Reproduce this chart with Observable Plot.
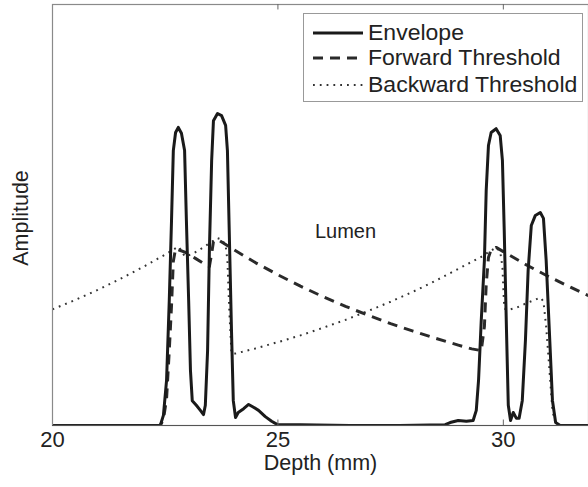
<!DOCTYPE html>
<html>
<head>
<meta charset="utf-8">
<script src="https://cdn.jsdelivr.net/npm/d3@7"></script>
<script src="https://cdn.jsdelivr.net/npm/@observablehq/plot@0.6"></script>
<style>
  html, body { margin: 0; padding: 0; background: #fff; }
  #wrap { position: relative; width: 588px; height: 487px; overflow: hidden; font-family: "Liberation Sans", Arial, sans-serif; }
  #legend { position: absolute; left: 303px; top: 13px; width: 280px; height: 89px; border: 1px solid #999; background: #fff; box-sizing: border-box; }
  .row { position: absolute; left: 0; height: 26px; display: flex; align-items: center; font-size: 21.5px; color: #222; white-space: nowrap; }
  .row svg { margin-left: 9px; margin-right: 5px; }
  .row span { display: inline-block; transform: scaleX(1.07); transform-origin: left center; }
</style>
</head>
<body>
<div id="wrap"><div id="chart"></div><div id="legend"></div></div>
<script>
// Depth axis ticks (mm)
const xTicks = [20, 25, 30];
const seriesNames = ["Envelope", "Forward Threshold", "Backward Threshold"];
const annotation = "Lumen";

// Envelope (depth in mm, normalized amplitude)
const envDepth = [20, 22.39, 22.46, 22.53, 22.59, 22.64, 22.68, 22.73, 22.79, 22.86, 22.93, 22.97, 23.02, 23.06, 23.10, 23.19, 23.28, 23.35, 23.39, 23.44, 23.48, 23.53, 23.57, 23.66, 23.75, 23.84, 23.88, 23.92, 23.97, 24.01, 24.06, 24.12, 24.24, 24.35, 24.43, 24.57, 24.72, 24.86, 24.99, 25.5, 26.6, 27.7, 28.71, 28.82, 29.00, 29.18, 29.33, 29.40, 29.45, 29.51, 29.58, 29.62, 29.67, 29.73, 29.84, 29.93, 29.98, 30.02, 30.07, 30.11, 30.16, 30.22, 30.29, 30.35, 30.42, 30.49, 30.55, 30.62, 30.71, 30.82, 30.89, 30.95, 31.02, 31.09, 31.16, 31.26, 32];
const envAmp   = [0, 0, 0.024, 0.107, 0.297, 0.487, 0.653, 0.696, 0.708, 0.694, 0.653, 0.487, 0.297, 0.131, 0.059, 0.048, 0.036, 0.026, 0.048, 0.178, 0.416, 0.629, 0.724, 0.741, 0.736, 0.713, 0.653, 0.463, 0.226, 0.059, 0.019, 0.031, 0.040, 0.050, 0.045, 0.036, 0.021, 0.010, 0.002, 0.002, 0, 0, 0.002, 0.007, 0.012, 0.010, 0.012, 0.036, 0.107, 0.249, 0.392, 0.558, 0.665, 0.696, 0.705, 0.689, 0.629, 0.463, 0.226, 0.048, 0.012, 0.031, 0.017, 0.017, 0.059, 0.202, 0.368, 0.475, 0.499, 0.506, 0.492, 0.392, 0.226, 0.059, 0.007, 0, 0];

// Forward threshold
const fwdDepth = [20, 22.39, 22.46, 22.53, 22.59, 22.64, 22.68, 22.73, 22.95, 23.17, 23.39, 23.48, 23.53, 23.57, 23.66, 24.0, 24.5, 25.0, 25.5, 26.0, 26.5, 27.0, 27.5, 28.0, 28.5, 29.0, 29.3, 29.51, 29.58, 29.62, 29.67, 29.73, 29.84, 30.0, 30.5, 31.0, 31.5, 32];
const fwdAmp   = [0, 0, 0.014, 0.064, 0.178, 0.285, 0.39, 0.42, 0.411, 0.397, 0.382, 0.378, 0.408, 0.437, 0.442, 0.419, 0.387, 0.358, 0.331, 0.306, 0.283, 0.262, 0.242, 0.224, 0.207, 0.191, 0.182, 0.178, 0.235, 0.335, 0.399, 0.418, 0.423, 0.413, 0.382, 0.354, 0.328, 0.303];

// Backward threshold
const bwdDepth = [20, 20.5, 21, 21.5, 22, 22.5, 22.79, 22.86, 22.93, 23.1, 23.3, 23.5, 23.66, 23.75, 23.84, 23.88, 23.92, 23.97, 24.06, 24.5, 25, 25.5, 26, 26.5, 27, 27.5, 28, 28.5, 29, 29.5, 29.84, 29.93, 29.98, 30.02, 30.11, 30.16, 30.3, 30.5, 30.62, 30.71, 30.82, 30.89, 30.95, 31.02, 31.09, 31.16, 31.26, 32];
const bwdAmp   = [0.276, 0.298, 0.322, 0.348, 0.376, 0.406, 0.425, 0.416, 0.402, 0.407, 0.42, 0.434, 0.445, 0.442, 0.428, 0.392, 0.278, 0.171, 0.171, 0.183, 0.198, 0.214, 0.232, 0.251, 0.272, 0.294, 0.318, 0.344, 0.372, 0.40, 0.423, 0.413, 0.377, 0.278, 0.274, 0.276, 0.28, 0.29, 0.295, 0.299, 0.304, 0.295, 0.235, 0.136, 0.035, 0.004, 0, 0];

const toRows = (xs, ys) => xs.map((d, i) => ({depth: d, amp: ys[i]}));
const env = toRows(envDepth, envAmp);
const fwd = toRows(fwdDepth, fwdAmp);
const bwd = toRows(bwdDepth, bwdAmp);

const styles = {
  Envelope: {stroke: "#1a1a1a", strokeWidth: 3, strokeDasharray: null},
  "Forward Threshold": {stroke: "#2a2a2a", strokeWidth: 3, strokeDasharray: "10,7"},
  "Backward Threshold": {stroke: "#333", strokeWidth: 2, strokeDasharray: "1.8,5"}
};

const chart = Plot.plot({
  width: 588,
  height: 487,
  marginLeft: 52, marginRight: 0, marginTop: 4, marginBottom: 62,
  style: {fontFamily: "'Liberation Sans', Arial, sans-serif", fontSize: "21px", color: "#222", background: "#fff"},
  x: {domain: [20, 32], range: [52, 593], axis: null},
  y: {domain: [0, 1], range: [425, 4], axis: null},
  marks: [
    Plot.line(bwd, {x: "depth", y: "amp", clip: true, strokeLinecap: "butt", ...styles["Backward Threshold"]}),
    Plot.line(fwd, {x: "depth", y: "amp", clip: true, strokeLinecap: "butt", ...styles["Forward Threshold"]}),
    Plot.line(env, {x: "depth", y: "amp", clip: true, strokeLinejoin: "round", ...styles.Envelope}),
    Plot.frame({stroke: "#8a8a8a", strokeWidth: 1.2}),
    Plot.ruleY([0], {stroke: "#555", strokeWidth: 1.2}),
    Plot.ruleX(xTicks.slice(1), {x: d => d, y1: 0, y2: 0.013, stroke: "#666", strokeWidth: 1}),
    Plot.ruleX(xTicks.slice(1), {x: d => d, y1: 0.987, y2: 1, stroke: "#666", strokeWidth: 1}),
    Plot.text(xTicks, {x: d => d, text: d => String(d), frameAnchor: "bottom", dy: 21, fontSize: 22, fill: "#222"}),
    Plot.text(["Depth (mm)"], {frameAnchor: "bottom", dy: 44, fontSize: 21.5, fill: "#222"}),
    Plot.text(["Amplitude"], {frameAnchor: "left", textAnchor: "middle", dx: -31, dy: 3, rotate: -90, fontSize: 21.5, fill: "#222"}),
    Plot.text([annotation], {x: 26.5, y: 0.46, fontSize: 20, fill: "#222"})
  ]
});
document.getElementById("chart").appendChild(chart);

// Legend inside the axes (top right)
const legend = document.getElementById("legend");
const rowTops = [6, 31, 58];
seriesNames.forEach((name, i) => {
  const s = styles[name];
  const row = document.createElement("div");
  row.className = "row";
  row.style.top = rowTops[i] + "px";
  const dash = s.strokeDasharray ? `stroke-dasharray="${s.strokeDasharray}"` : "";
  row.innerHTML = `<svg width="50" height="10"><line x1="0" y1="5" x2="50" y2="5" stroke="${s.stroke}" stroke-width="${s.strokeWidth}" ${dash}/></svg><span>${name}</span>`;
  legend.appendChild(row);
});
</script>
</body>
</html>
